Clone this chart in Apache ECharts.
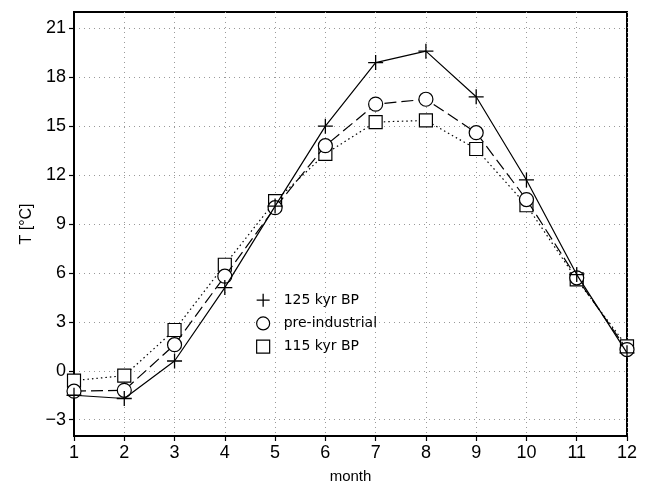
<!DOCTYPE html>
<html>
<head>
<meta charset="utf-8">
<script src="https://cdn.jsdelivr.net/npm/echarts@6/dist/echarts.min.js"></script>
<style>html,body{margin:0;padding:0;background:#fff}#c{width:648px;height:489px}</style>
</head>
<body>
<div id="c"></div>
<script>
var months = [1,2,3,4,5,6,7,8,9,10,11,12];
var yTicks = [-3,0,3,6,9,12,15,18,21];
var kyr125 = [-1.5,-1.7,0.6,5.1,10.1,15.0,18.9,19.6,16.8,11.7,5.9,1.1];
var preIndustrial = [-1.25,-1.2,1.6,5.8,10.0,13.8,16.35,16.65,14.6,10.5,5.7,1.3];
var kyr115 = [-0.6,-0.3,2.5,6.5,10.4,13.3,15.25,15.35,13.6,10.15,5.6,1.5];
var names = ['125 kyr BP','pre-industrial','115 kyr BP'];

var plusPath = 'path://M0,6L12,6M6,0L6,12';
function pairs(v){ return months.map(function(m,i){ return [m, v[i]]; }); }
var font = 'Liberation Sans';

var chart = echarts.init(document.getElementById('c'), null, {renderer:'canvas'});
chart.setOption({
  animation: false,
  backgroundColor: '#fff',
  grid: {left:74, right:21, top:12, bottom:48, show:true, borderColor:'#000', borderWidth:2, backgroundColor:'transparent'},
  xAxis: {
    type:'value', min:1, max:12, interval:1,
    name:'month', nameLocation:'middle', nameGap:33,
    nameTextStyle:{fontFamily:font, fontSize:15, color:'#000'},
    axisLine:{show:true, onZero:false, lineStyle:{color:'#000', width:2}},
    axisTick:{show:true, inside:false, length:5, lineStyle:{color:'#000', width:1.2}},
    axisLabel:{fontFamily:font, fontSize:18, color:'#000', margin:8},
    splitLine:{show:true, lineStyle:{color:'#999', type:[1,4], width:1}}
  },
  yAxis: {
    type:'value', min:-4, max:22,
    name:'T [°C]', nameLocation:'middle', nameGap:39, nameRotate:90,
    nameTextStyle:{fontFamily:font, fontSize:16, color:'#000'},
    axisLine:{show:true, onZero:false, lineStyle:{color:'#000', width:2}},
    axisTick:{show:true, inside:false, length:5, customValues:yTicks, lineStyle:{color:'#000', width:1.2}},
    axisLabel:{fontFamily:font, fontSize:18, color:'#000', margin:8, customValues:yTicks,
      formatter:function(v){ return String(v).replace('-', '\u2212'); }},
    splitLine:{show:true, lineStyle:{color:'#999', type:[1,4], width:1}}
  },
  legend: {
    orient:'vertical', left:251, top:288, itemGap:9, itemWidth:13, itemHeight:13,
    textStyle:{fontFamily:'DejaVu Sans', fontSize:14, color:'#000', padding:[0,0,0,9]},
    data:[
      {name:names[0], icon:plusPath, itemStyle:{color:'#000', borderColor:'#000', borderWidth:1.3}},
      {name:names[1], icon:'circle', itemStyle:{color:'#fff', borderColor:'#000', borderWidth:1.2}},
      {name:names[2], icon:'rect', itemStyle:{color:'#fff', borderColor:'#000', borderWidth:1.2}}
    ]
  },
  series: [
    {name:names[2], type:'line', data:pairs(kyr115), symbol:'rect', symbolSize:13,
     lineStyle:{color:'#000', width:1.2, type:[1.5,3]},
     itemStyle:{color:'#fff', borderColor:'#000', borderWidth:1.2}, z:2},
    {name:names[1], type:'line', data:pairs(preIndustrial), symbol:'circle', symbolSize:14,
     lineStyle:{color:'#000', width:1.2, type:[12,5]},
     itemStyle:{color:'#fff', borderColor:'#000', borderWidth:1.2}, z:3},
    {name:names[0], type:'line', data:pairs(kyr125), symbol:plusPath, symbolSize:15,
     lineStyle:{color:'#000', width:1.2, type:'solid'},
     itemStyle:{color:'#000', borderColor:'#000', borderWidth:1.3}, z:4}
  ]
});
</script>
</body>
</html>
